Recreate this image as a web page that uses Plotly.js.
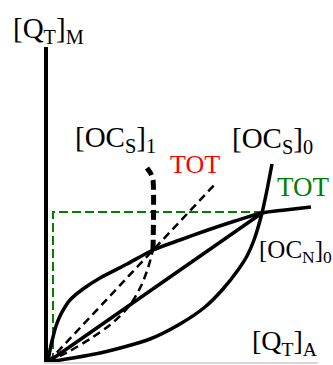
<!DOCTYPE html>
<html>
<head>
<meta charset="utf-8">
<script src="https://cdn.plot.ly/plotly-3.0.1.min.js"></script>
<style>html,body{margin:0;padding:0;background:#fff;}#chart{width:333px;height:365px;}</style>
</head>
<body>
<div id="chart"></div>
<script>
// Values (arbitrary units: [Q_T]_A horizontally, [Q_T]_M vertically)
var ocN0X = [0, 2, 5, 8, 12, 17, 22, 35, 52, 79, 105, 132, 157, 187, 214, 237, 263];
var ocN0Y = [0, 12, 25, 36, 46, 55, 62, 73, 84, 98, 112, 122, 131, 141, 149, 152, 155];

var ocS0X = [0, 52, 102, 132, 157, 175, 190, 199, 206, 214, 219, 224];
var ocS0Y = [0, 9, 23, 38, 55, 73, 92, 106, 122, 149, 172, 198];

var totX = [0, 214];
var totY = [0, 149];

var ocS1LowX = [0, 22, 45, 62, 76, 86, 94, 100, 105];
var ocS1LowY = [0, 11, 25, 37, 50, 63, 78, 94, 112];
var ocS1HighX = [105, 105, 103, 99];
var ocS1HighY = [112, 182, 188, 194];

var tot1X = [0, 169];
var tot1Y = [0, 180];

var boxX = [5, 5, 214];
var boxY = [0, 150, 150];

var FONT = 'Liberation Serif';

var traces = [
  {x: boxX, y: boxY, mode: 'lines', line: {color: '#008000', width: 2, dash: '9px,4px'}},
  {x: ocN0X, y: ocN0Y, mode: 'lines', line: {color: '#000', width: 3.5, shape: 'spline', smoothing: 0.7}},
  {x: ocS0X, y: ocS0Y, mode: 'lines', line: {color: '#000', width: 3.5, shape: 'spline', smoothing: 0.7}},
  {x: totX, y: totY, mode: 'lines', line: {color: '#000', width: 3.5}},
  {x: ocS1LowX, y: ocS1LowY, mode: 'lines', line: {color: '#000', width: 2.5, dash: '8px,5px', shape: 'spline', smoothing: 0.7}},
  {x: ocS1HighX, y: ocS1HighY, mode: 'lines', line: {color: '#000', width: 5, dash: '10px,5px', shape: 'spline', smoothing: 0.7}},
  {x: tot1X, y: tot1Y, mode: 'lines', line: {color: '#000', width: 2.5, dash: '8px,5px'}}
];
traces.forEach(function (t) { t.hoverinfo = 'skip'; t.showlegend = false; });

function ann(text, x, y, size, color) {
  return {text: text, xref: 'paper', yref: 'paper', x: x, y: y, xanchor: 'left', yanchor: 'top',
    showarrow: false, font: {family: FONT, size: size, color: color || '#000'}};
}

var layout = {
  width: 333, height: 365,
  margin: {l: 48, r: 15, t: 47, b: 3, pad: 0},
  paper_bgcolor: '#fff', plot_bgcolor: '#fff',
  font: {family: FONT},
  showlegend: false,
  xaxis: {range: [0, 270], showline: true, linecolor: '#d9d9d9', linewidth: 2,
    showgrid: false, zeroline: false, showticklabels: false, ticks: '', fixedrange: true},
  yaxis: {range: [0, 315], showline: true, linecolor: '#000', linewidth: 4,
    showgrid: false, zeroline: false, showticklabels: false, ticks: '', fixedrange: true},
  annotations: [
    ann('[Q<sub>T</sub>]<sub>M</sub>', -0.137, 1.118, 29),
    ann('[OC<sub>S</sub>]<sub>1</sub>', 0.0926, 0.770, 29),
    ann('[OC<sub>S</sub>]<sub>0</sub>', 0.674, 0.767, 29),
    ann('TOT', 0.444, 0.680, 26, '#ff0000'),
    ann('TOT', 0.841, 0.610, 27, '#008000'),
    ann('[OC<sub>N</sub>]<sub>0</sub>', 0.774, 0.405, 25),
    ann('[Q<sub>T</sub>]<sub>A</sub>', 0.748, 0.125, 28)
  ]
};

Plotly.newPlot('chart', traces, layout, {staticPlot: true, displayModeBar: false});
</script>
</body>
</html>
